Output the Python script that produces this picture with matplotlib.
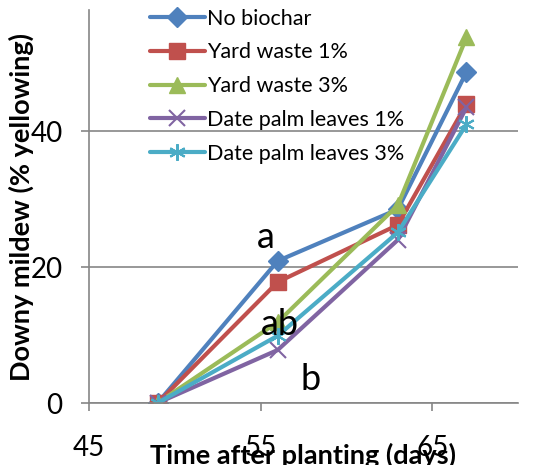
import matplotlib
matplotlib.use("Agg")
import matplotlib.pyplot as plt

days = [49, 56, 63, 67]
series_names = [
    "No biochar",
    "Yard waste 1%",
    "Yard waste 3%",
    "Date palm leaves 1%",
    "Date palm leaves 3%",
]
no_biochar = [0, 20.9, 28.5, 48.7]
yard_1 = [0, 17.8, 26.2, 44.0]
yard_3 = [0, 11.9, 29.1, 53.8]
palm_1 = [0, 7.8, 24.0, 43.5]
palm_3 = [0, 9.9, 25.1, 41.0]
letters = ["a", "ab", "b"]
letter_pos = [(55.3, 24.4), (56.1, 11.5), (57.9, 3.4)]

plt.rcParams["font.family"] = ["Lato", "DejaVu Sans"]

colors = ["#4F81BD", "#C0504D", "#9BBB59", "#8064A2", "#4BACC6"]
markers = ["D", "s", "^", "x", "*"]
msizes = [10, 12, 12, 11, 12]
values = [no_biochar, yard_1, yard_3, palm_1, palm_3]

fig = plt.figure(figsize=(5.39, 4.65), dpi=100)
ax = fig.add_axes([0.165, 0.1333, 0.796, 0.845])

for name, vals, c, m, ms in zip(series_names, values, colors, markers, msizes):
    kw = dict(markeredgecolor=c, markerfacecolor=c)
    if m in ("x", "*"):
        kw["markeredgewidth"] = 1.5
        kw["markerfacecolor"] = "none"
        m = "x" if m == "x" else (6, 2, 0)
    ax.plot(days, vals, color=c, marker=m, markersize=ms, linewidth=3,
            label=name, solid_capstyle="round", **kw)

for txt, (x, y) in zip(letters, letter_pos):
    ax.text(x, y, txt, fontsize=26, ha="center", va="center")

ax.set_xlim(45, 70)
ax.set_ylim(0, 57.8)
ax.set_xticks([45, 55, 65])
ax.set_yticks([0, 20, 40])
ax.grid(True, axis="y", color="#868686", linewidth=1.2)
ax.set_axisbelow(True)
for s in ["top", "right"]:
    ax.spines[s].set_visible(False)
for s in ["left", "bottom"]:
    ax.spines[s].set_color("#868686")
    ax.spines[s].set_linewidth(1.2)
ax.tick_params(axis="x", length=6, width=1.2, color="#868686", pad=17, labelsize=20)
ax.tick_params(axis="y", length=6, width=1.2, color="#868686", pad=13, labelsize=20)

ax.set_xlabel("Time after planting (days)", fontsize=19.5, fontweight="bold", labelpad=-13)
ax.set_ylabel("Downy mildew (% yellowing)", fontsize=19.5, fontweight="bold", labelpad=-3)

fig.legend(loc="upper left", bbox_to_anchor=(0.262, 1.0), frameon=False,
           fontsize=15.5, handlelength=2.55, handletextpad=0.12, labelspacing=0.64,
           borderaxespad=0)

fig.savefig("out.png", dpi=100)
